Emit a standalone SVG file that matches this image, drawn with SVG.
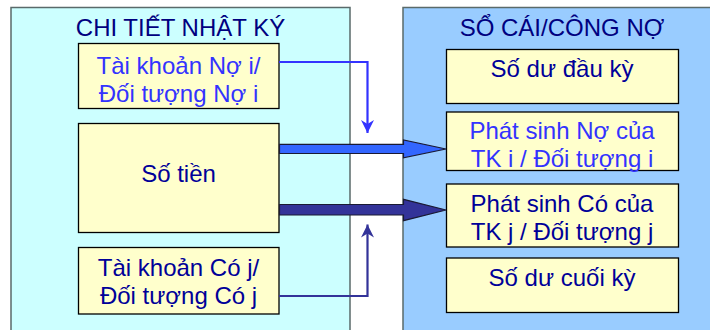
<svg xmlns="http://www.w3.org/2000/svg" width="710" height="330" viewBox="0 0 710 330">
<style>
  .panel { stroke: #5a6a6a; stroke-width: 1.5; }
  .box { fill: #FFFFCC; stroke: #000000; stroke-width: 1.3; }
  text { font-family: "Liberation Sans", Arial, sans-serif; text-anchor: middle; }
  .title { font-size: 24px; fill: #000080; }
  .t { font-size: 24px; }
  .navy { fill: #000099; }
  .blue { fill: #3333FF; }
</style>
<defs>
  <marker id="ahBlue" markerUnits="userSpaceOnUse" markerWidth="14" markerHeight="14" refX="13" refY="7" orient="auto">
    <path d="M0,0.5 L13,7 L0,13.5 L4,7 z" fill="#3333FF"/>
  </marker>
  <marker id="ahNavy" markerUnits="userSpaceOnUse" markerWidth="14" markerHeight="14" refX="13" refY="7" orient="auto">
    <path d="M0,0.5 L13,7 L0,13.5 L4,7 z" fill="#333399"/>
  </marker>
</defs>
<rect width="710" height="330" fill="#FFFFFF"/>
<g id="panel-left">
  <rect class="panel" x="11" y="7.5" width="339" height="340" fill="#CCFFFF"/>
  <text class="title" x="180.5" y="36">CHI TIẾT NHẬT KÝ</text>
</g>
<g id="panel-right">
  <rect class="panel" x="403" y="7.5" width="320" height="340" fill="#99CCFF"/>
  <text class="title" x="562" y="36">SỔ CÁI/CÔNG NỢ</text>
</g>
<g id="node-tk-no">
  <rect class="box" x="78.5" y="43.5" width="200.5" height="65"/>
  <text class="t blue" x="178.5" y="73.5">Tài khoản Nợ i/</text>
  <text class="t blue" x="178.5" y="101.5">Đối tượng Nợ i</text>
</g>
<g id="node-so-tien">
  <rect class="box" x="78.5" y="123.5" width="200.5" height="109"/>
  <text class="t navy" x="178.5" y="182">Số tiền</text>
</g>
<g id="node-tk-co">
  <rect class="box" x="78.5" y="247.5" width="200.5" height="66.5"/>
  <text class="t navy" x="178.5" y="276">Tài khoản Có j/</text>
  <text class="t navy" x="178.5" y="304">Đối tượng Có j</text>
</g>
<g id="node-so-du-dau">
  <rect class="box" x="446.5" y="49.5" width="232" height="54"/>
  <text class="t navy" x="562" y="77">Số dư đầu kỳ</text>
</g>
<g id="node-ps-no">
  <rect class="box" x="446.5" y="112" width="232" height="58.5"/>
  <text class="t blue" x="562" y="139">Phát sinh Nợ của</text>
  <text class="t blue" x="562" y="167">TK i / Đối tượng i</text>
</g>
<g id="node-ps-co">
  <rect class="box" x="446.5" y="184" width="232" height="63"/>
  <text class="t navy" x="562" y="212">Phát sinh Có của</text>
  <text class="t navy" x="562" y="240">TK j / Đối tượng j</text>
</g>
<g id="node-so-du-cuoi">
  <rect class="box" x="446.5" y="258" width="232" height="54.5"/>
  <text class="t navy" x="562" y="286">Số dư cuối kỳ</text>
</g>
<g id="connectors">
  <polyline points="279,62 367.5,62 367.5,133" fill="none" stroke="#3333FF" stroke-width="2.2" marker-end="url(#ahBlue)"/>
  <polyline points="279,296 367.5,296 367.5,224.5" fill="none" stroke="#333399" stroke-width="2.2" marker-end="url(#ahNavy)"/>
  <path d="M279.5,144.3 L403.5,144.3 L403.5,140 L446,149 L403.5,157.8 L403.5,153.5 L279.5,153.5 Z" fill="#3366FF" stroke="#1a1a33" stroke-width="1.2" stroke-linejoin="miter"/>
  <path d="M279.5,204.5 L403.5,204.5 L403.5,199.3 L446,210 L403.5,220.7 L403.5,215 L279.5,215 Z" fill="#333399" stroke="#1a1a33" stroke-width="1.2" stroke-linejoin="miter"/>
</g>
</svg>
